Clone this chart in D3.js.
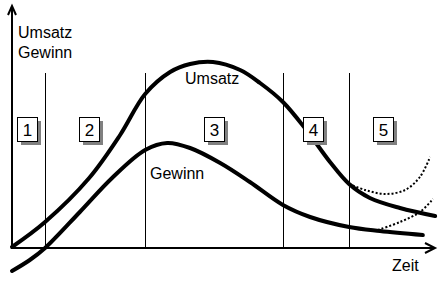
<!DOCTYPE html>
<html>
<head>
<meta charset="utf-8">
<script src="https://cdn.jsdelivr.net/npm/d3@7"></script>
<style>
  body { margin: 0; background: #fff; }
  text { font-family: "Liberation Sans", Arial, sans-serif; fill: #000; }
</style>
</head>
<body>
<svg id="chart" width="445" height="283"></svg>
<script>
// Produktlebenszyklus: time t (0..100), value v (0..100)
const umsatz = [
  [0, 0.5], [7.8, 13], [18.2, 35], [25.5, 56.5], [31.4, 77], [37.3, 88], [42, 92],
  [47.4, 93], [53.8, 89], [58.5, 82.5], [63.9, 73], [69.6, 58.5], [75, 43],
  [79.5, 32], [84.4, 25], [91.5, 20], [99.8, 16]
];
const gewinn = [
  [0, -11.5], [4.2, -6], [7.8, 0], [16, 18], [23.6, 35], [31.4, 49], [36.6, 52.5],
  [42, 50], [49.1, 42.5], [56.1, 33], [63.9, 21.5], [70.3, 15.5], [79.5, 10.5],
  [86.8, 8.5], [96.9, 6.5]
];
// alternative Verläufe (gepunktet)
const umsatzAlt = [[79.5, 32], [83.3, 29], [88, 27], [92.7, 29], [96.2, 35.5], [98.6, 45.5]];
const gewinnAlt = [[86.3, 9], [91.5, 13], [96.2, 18], [99.3, 24.5]];

const phaseBounds = [7.8, 31.4, 63.9, 79.5];
const phaseLabels = ["1", "2", "3", "4", "5"];
const phaseLabelT = [3.6, 18.2, 47.6, 71, 87.5];

const svg = d3.select("#chart");

const x = d3.scaleLinear().domain([0, 100]).range([12, 436]);
const y = d3.scaleLinear().domain([0, 100]).range([248, 48]);

// Phasengrenzen
svg.selectAll(".phase-line")
  .data(phaseBounds)
  .join("line")
    .attr("x1", d => Math.round(x(d)) + 0.5)
    .attr("x2", d => Math.round(x(d)) + 0.5)
    .attr("y1", y(87.5))
    .attr("y2", y(0))
    .attr("stroke", "#000")
    .attr("stroke-width", 1);

// Achsen mit Pfeilen
const axes = svg.append("g").attr("stroke", "#000").attr("stroke-width", 2).attr("fill", "none");
axes.append("line").attr("x1", x(0)).attr("y1", y(0)).attr("x2", x(0)).attr("y2", 6);
axes.append("path").attr("d", `M${x(0) - 4},15 L${x(0)},6 L${x(0) + 4},15`);
axes.append("line").attr("x1", x(0)).attr("y1", y(0)).attr("x2", 435).attr("y2", y(0));
axes.append("path").attr("d", `M425,${y(0) - 5} L435,${y(0)} L425,${y(0) + 5}`);

// Kurven
const line = d3.line()
  .x(d => x(d[0]))
  .y(d => y(d[1]))
  .curve(d3.curveCatmullRom.alpha(0.5));

svg.selectAll(".curve")
  .data([umsatz, gewinn])
  .join("path")
    .attr("d", line)
    .attr("fill", "none")
    .attr("stroke", "#000")
    .attr("stroke-width", 4)
    .attr("stroke-linecap", "round");

svg.selectAll(".alt")
  .data([umsatzAlt, gewinnAlt])
  .join("path")
    .attr("d", line)
    .attr("fill", "none")
    .attr("stroke", "#000")
    .attr("stroke-width", 2)
    .attr("stroke-dasharray", "2,2");

// Phasen-Kästchen mit Schatten
const boxW = 20, boxH = 24, boxTop = 117;
const boxes = svg.selectAll(".box")
  .data(phaseLabels)
  .join("g")
    .attr("transform", (d, i) => `translate(${Math.round(x(phaseLabelT[i]) - boxW / 2)},${boxTop})`);

boxes.append("rect")
  .attr("x", 4).attr("y", 4)
  .attr("width", boxW).attr("height", boxH)
  .attr("fill", "#808080");
boxes.append("rect")
  .attr("x", 0.5).attr("y", 0.5)
  .attr("width", boxW).attr("height", boxH)
  .attr("fill", "#fff")
  .attr("stroke", "#000")
  .attr("stroke-width", 1);
boxes.append("text")
  .attr("x", boxW / 2 + 0.5)
  .attr("y", 19)
  .attr("text-anchor", "middle")
  .attr("font-size", 17)
  .attr("font-weight", 300)
  .text(d => d);

// Beschriftungen
const labels = [
  { text: "Umsatz", x: 18, y: 38 },
  { text: "Gewinn", x: 18, y: 58 },
  { text: "Umsatz", x: 185, y: 84 },
  { text: "Gewinn", x: 150, y: 179 },
  { text: "Zeit", x: 392, y: 271 }
];
svg.selectAll(".label")
  .data(labels)
  .join("text")
    .attr("x", d => d.x)
    .attr("y", d => d.y)
    .attr("font-size", 16)
    .text(d => d.text);
</script>
</body>
</html>
